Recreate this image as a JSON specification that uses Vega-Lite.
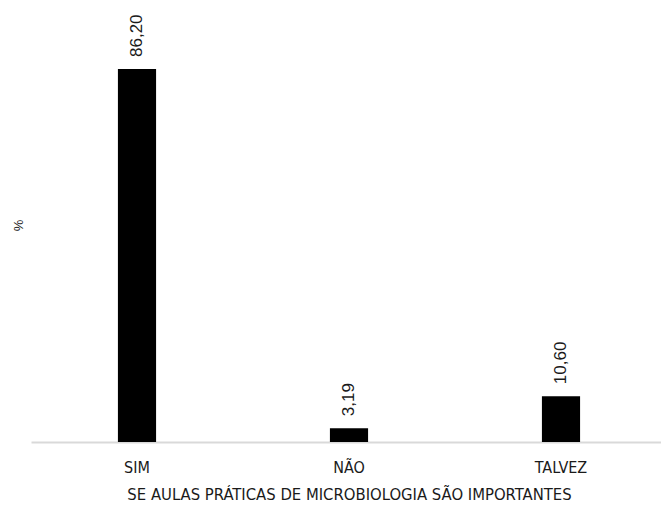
{
  "$schema": "https://vega.github.io/schema/vega-lite/v6.json",
  "width": 636,
  "height": 373,
  "autosize": {"type": "none"},
  "padding": {"left": 31, "top": 69, "right": 0, "bottom": 66},
  "background": "white",
  "config": {"view": {"stroke": null}},
  "data": {"values": [
    {"resposta": "SIM", "pct": 86.20, "label": "86,20"},
    {"resposta": "NÃO", "pct": 3.19, "label": "3,19"},
    {"resposta": "TALVEZ", "pct": 10.60, "label": "10,60"}
  ]},
  "encoding": {
    "x": {
      "field": "resposta", "type": "nominal", "sort": null,
      "scale": {"paddingInner": 0.82, "paddingOuter": 0.41},
      "axis": {
        "title": "SE AULAS PRÁTICAS DE MICROBIOLOGIA SÃO IMPORTANTES",
        "labelAngle": 0, "ticks": false, "domainColor": "#d9d9d9", "domainWidth": 2,
        "labelFont": "DejaVu Sans Condensed", "labelFontSize": 16, "labelColor": "#1a1a1a",
        "labelPadding": 17, "titleFont": "DejaVu Sans Condensed", "titleFontSize": 16.5,
        "titleFontWeight": "normal", "titleColor": "#1a1a1a", "titlePadding": 11
      }
    },
    "y": {
      "field": "pct", "type": "quantitative",
      "scale": {"domain": [0, 86.2], "nice": false},
      "axis": {
        "title": "%", "domain": false, "ticks": false, "labels": false, "grid": false,
        "titleFont": "Liberation Sans", "titleFontSize": 13, "titleFontWeight": "normal",
        "titleColor": "#1a1a1a", "titlePadding": 6, "titleY": 156
      }
    }
  },
  "layer": [
    {"mark": {"type": "bar", "color": "#000000"}},
    {"mark": {"type": "text", "angle": 270, "align": "left", "baseline": "middle", "dx": 12,
              "font": "Liberation Sans", "fontSize": 17, "color": "#1a1a1a"},
     "encoding": {"text": {"field": "label"}}}
  ]
}
